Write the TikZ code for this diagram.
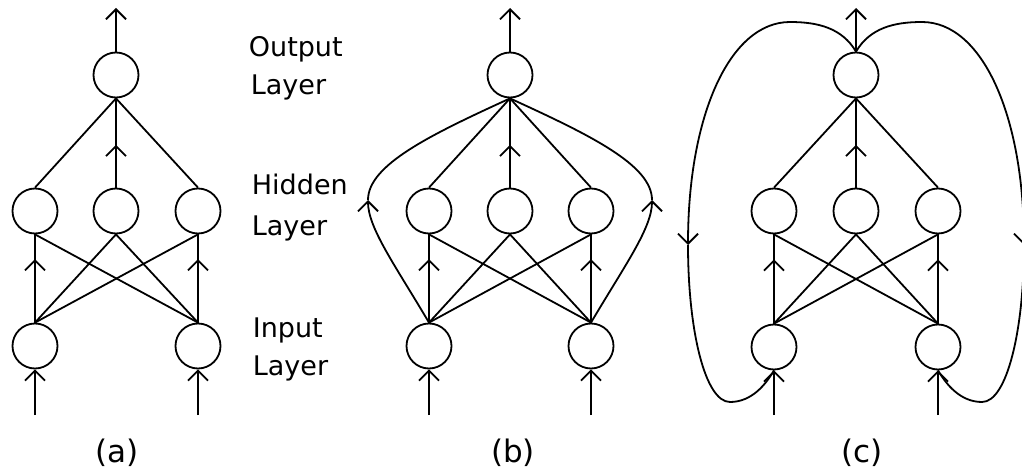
\documentclass[tikz,border=0pt]{standalone}
\usepackage{fontspec}
\newfontfamily\labfont{DejaVu Sans}
\usetikzlibrary{arrows.meta,decorations.markings}
\tikzset{
  barb/.tip={Straight Barb[length=10pt,width=20pt]},
  neuron/.style={draw,circle,minimum size=45pt,inner sep=0pt,line width=1.8pt},
  conn/.style={line width=1.8pt},
  midarrow/.style={postaction={decorate},decoration={markings,mark=at position #1 with {\arrow{barb}}}},
  laytext/.style={anchor=base west,inner sep=0pt,font=\labfont\fontsize{27}{27}\selectfont},
  captext/.style={anchor=base,inner sep=0pt,font=\labfont\fontsize{31}{31}\selectfont},
}
\begin{document}
\begin{tikzpicture}[x=1pt,y=-1pt,line width=1.8pt]
\useasboundingbox (0,0) rectangle (1022,473);
% ---------- panel (a)
\node[neuron] (aout) at (116,75) {};
\node[neuron] (ah1) at (35,211) {};
\node[neuron] (ah2) at (116,211) {};
\node[neuron] (ah3) at (198,211) {};
\node[neuron] (ai1) at (35,346) {};
\node[neuron] (ai2) at (198,346) {};
\coordinate (aoutT) at (116,8);
\coordinate (ain1) at (35,415);
\coordinate (ain2) at (198,415);
\draw[conn,-barb] (aout.north) -- (aoutT);
\draw[conn,-barb] (ain1) -- (ai1.south);
\draw[conn,-barb] (ain2) -- (ai2.south);
\draw[conn] (ah1.north) -- (aout.south);
\draw[conn,midarrow=0.48] (ah2.north) -- (aout.south);
\draw[conn] (ah3.north) -- (aout.south);
\draw[conn,midarrow=0.72] (ai1.north) -- (ah1.south);
\draw[conn] (ai1.north) -- (ah2.south);
\draw[conn] (ai1.north) -- (ah3.south);
\draw[conn,midarrow=0.72] (ai2.north) -- (ah3.south);
\draw[conn] (ai2.north) -- (ah1.south);
\draw[conn] (ai2.north) -- (ah2.south);
% ---------- panel (b)
\node[neuron] (bout) at (510,75) {};
\node[neuron] (bh1) at (429,211) {};
\node[neuron] (bh2) at (510,211) {};
\node[neuron] (bh3) at (591,211) {};
\node[neuron] (bi1) at (429,346) {};
\node[neuron] (bi2) at (591,346) {};
\coordinate (boutT) at (510,8);
\coordinate (bin1) at (429,415);
\coordinate (bin2) at (591,415);
\coordinate (bl) at (368,200);
\coordinate (br) at (652,200);
\draw[conn,-barb] (bout.north) -- (boutT);
\draw[conn,-barb] (bin1) -- (bi1.south);
\draw[conn,-barb] (bin2) -- (bi2.south);
\draw[conn] (bh1.north) -- (bout.south);
\draw[conn,midarrow=0.48] (bh2.north) -- (bout.south);
\draw[conn] (bh3.north) -- (bout.south);
\draw[conn,midarrow=0.72] (bi1.north) -- (bh1.south);
\draw[conn] (bi1.north) -- (bh2.south);
\draw[conn] (bi1.north) -- (bh3.south);
\draw[conn,midarrow=0.72] (bi2.north) -- (bh3.south);
\draw[conn] (bi2.north) -- (bh1.south);
\draw[conn] (bi2.north) -- (bh2.south);
\draw[conn,-barb] (bi1.north) .. controls (395,265) and (368,228) .. (bl);
\draw[conn] (bl) .. controls (368,165) and (430,135) .. (bout.south);
\draw[conn,-barb] (bi2.north) .. controls (625,265) and (652,228) .. (br);
\draw[conn] (br) .. controls (652,165) and (590,135) .. (bout.south);
% ---------- panel (c)
\node[neuron] (cout) at (856,75) {};
\node[neuron] (ch1) at (774,211) {};
\node[neuron] (ch2) at (856,211) {};
\node[neuron] (ch3) at (938,211) {};
\node[neuron] (ci1) at (774,347) {};
\node[neuron] (ci2) at (938,347) {};
\coordinate (coutT) at (856,8);
\coordinate (cin1) at (774,415);
\coordinate (cin2) at (938,415);
\draw[conn,-barb] (cout.north) -- (coutT);
\draw[conn,-barb] (cin1) -- (ci1.south);
\draw[conn,-barb] (cin2) -- (ci2.south);
\draw[conn] (ch1.north) -- (cout.south);
\draw[conn,midarrow=0.48] (ch2.north) -- (cout.south);
\draw[conn] (ch3.north) -- (cout.south);
\draw[conn,midarrow=0.72] (ci1.north) -- (ch1.south);
\draw[conn] (ci1.north) -- (ch2.south);
\draw[conn] (ci1.north) -- (ch3.south);
\draw[conn,midarrow=0.72] (ci2.north) -- (ch3.south);
\draw[conn] (ci2.north) -- (ch1.south);
\draw[conn] (ci2.north) -- (ch2.south);
% feedback loops
\coordinate (clt) at (790,22);
\coordinate (cla) at (688,245);
\coordinate (clb) at (730,402);
\coordinate (crt) at (922,22);
\coordinate (cra) at (1024,245);
\coordinate (crb) at (982,402);
\draw[conn] (cout.north) .. controls (842,28) and (818,22) .. (clt);
\draw[conn,-barb] (clt) .. controls (730,22) and (688,115) .. (cla);
\draw[conn] (cla) .. controls (688,330) and (705,402) .. (clb)
  .. controls (752,402) and (766,384) .. (ci1.south);
\draw[conn] (cout.north) .. controls (870,28) and (894,22) .. (crt);
\draw[conn,-barb] (crt) .. controls (982,22) and (1024,115) .. (cra);
\draw[conn] (cra) .. controls (1024,330) and (1007,402) .. (crb)
  .. controls (960,402) and (946,384) .. (ci2.south);
% ---------- texts
\node[laytext] (t1) at (248,57) {Output};
\node[laytext] (t2) at (250,95) {Layer};
\node[laytext] (t3) at (251,195) {Hidden};
\node[laytext] (t4) at (251,235) {Layer};
\node[laytext] (t5) at (252,337) {Input};
\node[laytext] (t6) at (252,375) {Layer};
\node[captext] (la) at (117,462) {(a)};
\node[captext] (lb) at (513,462) {(b)};
\node[captext] (lc) at (862,462) {(c)};
\end{tikzpicture}
\end{document}
